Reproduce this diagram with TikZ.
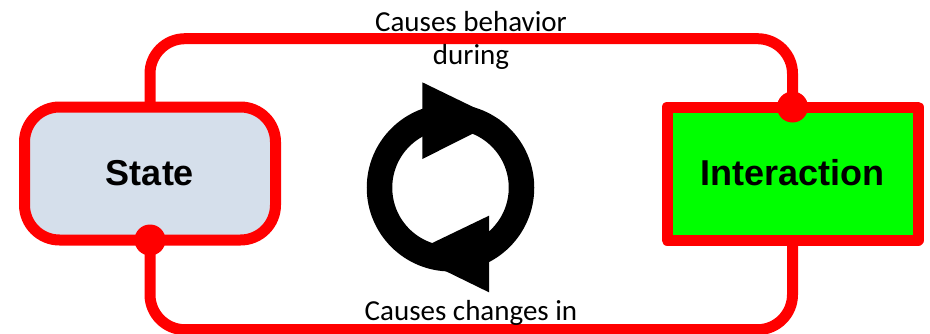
\documentclass[tikz,border=0pt]{standalone}
\usepackage{fontspec}
\setmainfont{Carlito}
\newfontfamily\boxfont{Liberation Sans}[BoldFont={Liberation Sans Bold}]
\definecolor{stategray}{HTML}{D5DFEB}
\tikzset{
    box/.style={draw=red, line width=11pt, line join=round, outer sep=0pt, minimum width=251pt, minimum height=133pt, font=\boxfont\bfseries\fontsize{36}{40}\selectfont},
    link/.style={draw=red, line width=11pt, rounded corners=35pt},
    dot/.style={circle, fill=red, minimum size=31pt, inner sep=0pt},
    caption/.style={inner sep=0pt, font=\fontsize{29}{34}\selectfont}
}
\begin{document}
\begin{tikzpicture}[x=1pt, y=-1pt]
            \useasboundingbox (0,0) rectangle (930,333);

            %boxes
            \node (State) at (150,173.5) [box, fill=stategray, rounded corners=35pt] {\raisebox{1.5pt}{State}};
            \node (Interaction) at (792.5,173.5) [box, fill=green] {\raisebox{1.5pt}{Interaction}};

            %arrows
            \coordinate (T) at (471,38.7);
            \coordinate (B) at (471,329.7);
            \draw[link] (State.north) |- (T) -| (Interaction.north);
            \draw[link] (Interaction.south) |- (B) -| (State.south);
            \node (DS) at (State.south) [dot] {};
            \node (DI) at (Interaction.north) [dot] {};

            %cycle
            \coordinate (C) at (450.5,187.7);
            \draw[line width=25.5pt] (C) circle (71pt);
            \fill (422.3,82.3) -- (500,120) -- (422.3,159) -- cycle;
            \fill (489,215.7) -- (410,253.7) -- (489,292.3) -- cycle;

            %labels
            \node (L1) at (471,22) [caption] {Causes behavior};
            \node (L2) at (471,57) [caption] {during};
            \node (L3) at (471,313) [caption] {Causes changes in};

    \end{tikzpicture}
\end{document}
